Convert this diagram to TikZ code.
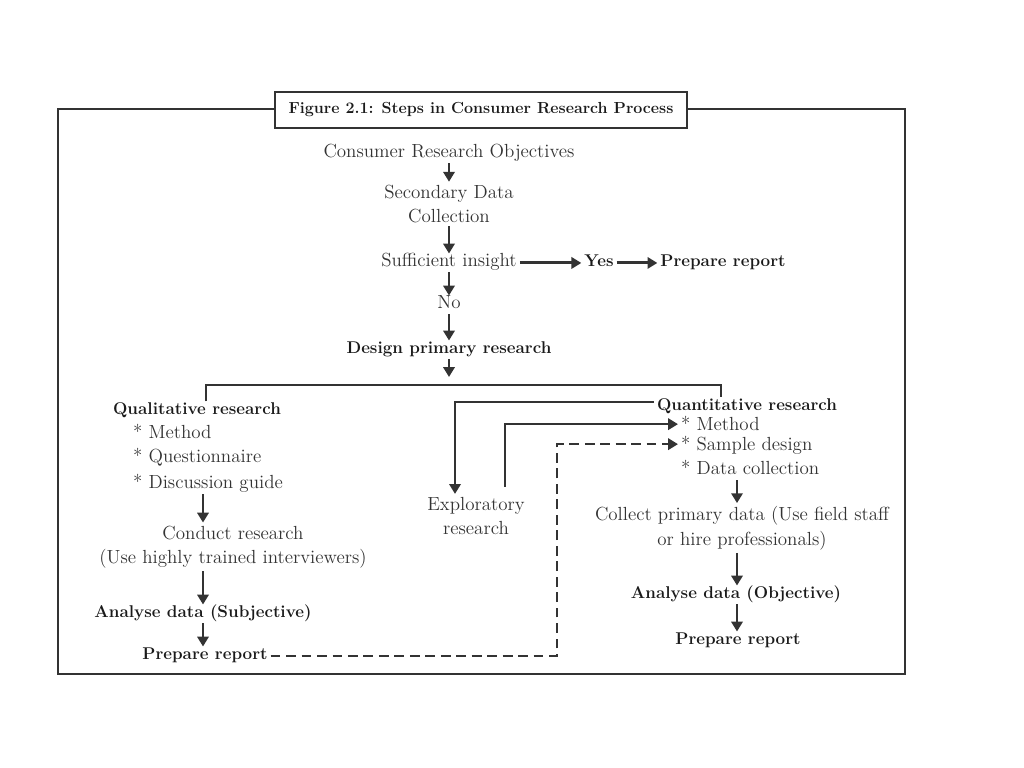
\documentclass[tikz,border=0pt]{standalone}
\usetikzlibrary{arrows.meta}
\definecolor{ink}{HTML}{333333}
\definecolor{dark}{HTML}{1A1A1A}
\begin{document}
\begin{tikzpicture}[x=0.025cm, y=-0.025cm,
    txt/.style={inner sep=2pt, text=ink, font=\fontsize{13.5}{17.5}\selectfont, align=center},
    bld/.style={txt, text=dark, font=\fontsize{12.1}{15}\selectfont\bfseries},
    one/.style={text height=1.6ex, text depth=0.5ex, yshift=-2.1pt},
    arr/.style={line width=2.1pt, draw=ink, -{Triangle[length=7pt,width=8pt]}},
    lnk/.style={arr, line width=1.9pt}]
    \useasboundingbox (0,0) rectangle (1024,768);

    % Marco y titulo
    \draw[line width=2pt, ink] (58,109) rectangle (905,674);
    \node[draw=ink, line width=1.6pt, fill=white, minimum width=10.3cm, minimum height=0.9cm,
          text=dark, font=\fontsize{11.4}{14}\selectfont\bfseries] (title) at (481,110)
          {Figure 2.1: Steps in Consumer Research Process};

    % Columna central
    \node[txt, one] (obj) at (449,151) {Consumer Research Objectives};
    \node[txt] (sec) at (449,204) {Secondary Data\\Collection};
    \node[txt, one] (suff) at (449,260) {Sufficient insight};
    \node[bld, one] (yes) at (599,260) {Yes};
    \node[bld, one] (prep1) at (723,260) {Prepare report};
    \node[txt, one] (no) at (449,302) {No};
    \node[bld, one] (design) at (449,347) {Design primary research};
    \coordinate (split) at (449,377);

    \draw[arr] (obj) -- (sec);
    \draw[arr] (sec) -- (suff);
    \draw[arr] (suff) -- (yes);
    \draw[arr] (yes) -- (prep1);
    \draw[arr] (suff) -- (no);
    \draw[arr] (no) -- (design);
    \draw[arr] (design) -- (split);

    % Rama cualitativa
    \node[bld, one] (qual) at (197,408) {Qualitative research};
    \node[txt, one, anchor=west] (q1) at (130,432) {* Method};
    \node[txt, one, anchor=west] (q2) at (130,456) {* Questionnaire};
    \node[txt, one, anchor=west] (q3) at (130,482) {* Discussion guide};
    \node[txt] (cond) at (233,547) {Conduct research\\(Use highly trained interviewers)};
    \node[bld, one] (qana) at (203,611) {Analyse data (Subjective)};
    \node[bld, one] (qprep) at (205,653) {Prepare report};
    \coordinate (lcol) at (203,0);

    \draw[arr] (q3.south -| lcol) -- (cond.north -| lcol);
    \draw[arr] (cond.south -| lcol) -- (qana.north -| lcol);
    \draw[arr] (qana.south -| lcol) -- (qprep.north -| lcol);

    % Rama cuantitativa
    \node[bld, one] (quant) at (747,404) {Quantitative research};
    \node[txt, one, anchor=west] (m1) at (678,424) {* Method};
    \node[txt, one, anchor=west] (m2) at (678,444) {* Sample design};
    \node[txt, one, anchor=west] (m3) at (678,468) {* Data collection};
    \node[txt] (coll) at (742,528) {Collect primary data (Use field staff\\or hire professionals)};
    \node[bld, one] (oana) at (736,592) {Analyse data (Objective)};
    \node[bld, one] (oprep) at (738,638) {Prepare report};
    \coordinate (qcol) at (737,0);

    \draw[arr] (m3.south -| qcol) -- (coll.north -| qcol);
    \draw[arr] (coll.south -| qcol) -- (oana.north -| qcol);
    \draw[arr] (oana.south -| qcol) -- (oprep.north -| qcol);

    % Separacion de ramas
    \coordinate (brl) at (206,385);
    \coordinate (brr) at (721,385);
    \draw[line width=2pt, ink] (qual.north -| brl) -- (brl) -- (brr) -- (quant.north -| brr);

    % Investigacion exploratoria
    \node[txt] (expl) at (476,516) {Exploratory\\research};
    \coordinate (ex1) at (455,0);
    \coordinate (ex2) at (505,0);
    \draw[lnk] ([yshift=3.5pt]quant.west) -| (expl.north -| ex1);
    \draw[lnk] (expl.north -| ex2) ++(0,-7) |- ([yshift=2pt]m1.west);

    % Retorno punteado
    \coordinate (dcol) at (557,0);
    \draw[lnk, dash pattern=on 7pt off 4pt] (qprep.east) -- (qprep.east -| dcol) |- ([yshift=2pt]m2.west);
\end{tikzpicture}
\end{document}
